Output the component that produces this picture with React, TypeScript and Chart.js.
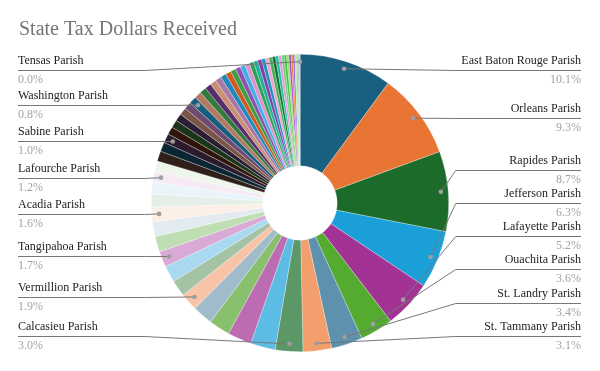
import React, { useEffect, useRef } from "react";
import { Chart, registerables } from "chart.js";

Chart.register(...registerables);

const TITLE = "State Tax Dollars Received";

const parishes = [
  "East Baton Rouge Parish", "Orleans Parish", "Rapides Parish", "Jefferson Parish",
  "Lafayette Parish", "Ouachita Parish", "St. Landry Parish", "St. Tammany Parish",
  "Calcasieu Parish", "Caddo Parish", "Bossier Parish", "Livingston Parish",
  "Ascension Parish", "Vermillion Parish", "Terrebonne Parish", "Iberia Parish",
  "Tangipahoa Parish", "St. Mary Parish", "Natchitoches Parish", "Acadia Parish",
  "Lincoln Parish", "Avoyelles Parish", "Lafourche Parish", "St. Martin Parish",
  "Vernon Parish", "Evangeline Parish", "Sabine Parish", "Beauregard Parish",
  "Webster Parish", "Iberville Parish", "St. Charles Parish", "St. John the Baptist Parish",
  "Washington Parish", "Allen Parish", "Jefferson Davis Parish", "Morehouse Parish",
  "Pointe Coupee Parish", "Concordia Parish", "De Soto Parish", "Franklin Parish",
  "Plaquemines Parish", "St. Bernard Parish", "St. James Parish", "Richland Parish",
  "Grant Parish", "Assumption Parish", "La Salle Parish", "Union Parish",
  "West Baton Rouge Parish", "Winn Parish", "Claiborne Parish", "Bienville Parish",
  "Jackson Parish", "Catahoula Parish", "East Feliciana Parish", "West Feliciana Parish",
  "Caldwell Parish", "Madison Parish", "East Carroll Parish", "West Carroll Parish",
  "Red River Parish", "St. Helena Parish", "Cameron Parish", "Tensas Parish",
];

// share of state tax dollars (percent)
const shares = [
  10.1, 9.3, 8.7, 6.3, 5.2, 3.6, 3.4, 3.1,
  3.0, 2.7, 2.6, 2.3, 2.2, 1.9, 1.8, 1.8,
  1.7, 1.7, 1.6, 1.6, 1.4, 1.3, 1.2, 1.1,
  1.1, 1.0, 1.0, 0.85, 0.85, 0.8, 0.8, 0.8,
  0.8, 0.75, 0.72, 0.7, 0.68, 0.65, 0.62, 0.6,
  0.58, 0.56, 0.53, 0.51, 0.48, 0.46, 0.43, 0.41,
  0.39, 0.37, 0.35, 0.33, 0.31, 0.29, 0.27, 0.25,
  0.23, 0.21, 0.19, 0.17, 0.15, 0.13, 0.11, 0.01,
];

const sliceColors = [
  "#185f80", "#e97535", "#1c6b2a", "#1b9fd9", "#a33295", "#55aa30", "#5e91ad", "#f29e6d",
  "#5b9767", "#5cbce3", "#bb6cb3", "#88c06e", "#a0bccb", "#f7c4a7", "#a4c3a5", "#a9d9f0",
  "#d9aad5", "#c0deb3", "#e3ebf0", "#fcefe7", "#e6efe7", "#e9f5fb", "#f6eaf4", "#eef6eb",
  "#2f2019", "#0b2633", "#2c1b2e", "#2f150a", "#1b3519", "#2b1d33", "#7a5444", "#6e4b6f",
  "#175d7d", "#b27a60", "#347a3e", "#5a2d70", "#c89070", "#a877a8", "#2088bb", "#d05a20",
  "#3e9e45", "#9050b0", "#40b0e0", "#e08fcf", "#2fa04f", "#20b0a0", "#8040a0", "#2090c0",
  "#f0a0d0", "#40b050", "#107030", "#20c0a0", "#f090e0", "#70d070", "#40c040", "#90e070",
  "#a040d0", "#f08020", "#9050f0", "#a0f0a0", "#60e060", "#b0b0b0", "#c090f0", "#d0d0d0",
];

const labeledParishes = [
  "East Baton Rouge Parish", "Orleans Parish", "Rapides Parish", "Jefferson Parish",
  "Lafayette Parish", "Ouachita Parish", "St. Landry Parish", "St. Tammany Parish",
  "Calcasieu Parish", "Vermillion Parish", "Tangipahoa Parish", "Acadia Parish",
  "Lafourche Parish", "Sabine Parish", "Washington Parish", "Tensas Parish",
];

const FONT = "'Liberation Serif', 'Times New Roman', serif";

const leaderLabels = {
  id: "leaderLabels",
  afterDatasetsDraw(chart: any) {
    const ctx = chart.ctx as CanvasRenderingContext2D;
    const meta = chart.getDatasetMeta(0);
    const data = chart.data.datasets[0].data as number[];
    const total = data.reduce((a, b) => a + b, 0);
    const area = chart.chartArea;
    const minY = area.top + 16;
    const maxY = area.bottom - 16.3;
    const gap = 33.1;
    const left: any[] = [];
    const right: any[] = [];
    (chart.data.labels as string[]).forEach((lab, i) => {
      if (!labeledParishes.includes(lab)) return;
      const arc = meta.data[i];
      const p = arc.getProps(["x", "y", "startAngle", "endAngle", "outerRadius"], true);
      const mid = (p.startAngle + p.endAngle) / 2;
      const r = p.outerRadius * 0.95;
      const item = {
        name: lab,
        pct: ((data[i] / total) * 100).toFixed(1) + "%",
        cx: p.x,
        R: p.outerRadius,
        dx: p.x + Math.cos(mid) * r,
        dy: p.y + Math.sin(mid) * r,
        ly: 0,
      };
      const frac = (mid + Math.PI / 2) / (2 * Math.PI);
      (frac > 0.5 ? left : right).push(item);
    });
    const layout = (arr: any[]) => {
      arr.sort((a, b) => a.dy - b.dy);
      arr.forEach((it, k) => {
        let y = Math.min(Math.max(it.dy, minY), maxY);
        if (k > 0) y = Math.max(y, arr[k - 1].ly + gap);
        it.ly = y;
      });
      for (let k = arr.length - 1; k >= 0; k--) {
        let y = Math.min(arr[k].ly, maxY);
        if (k < arr.length - 1) y = Math.min(y, arr[k + 1].ly - gap);
        arr[k].ly = y;
      }
    };
    layout(left);
    layout(right);

    const textLeft = 18;
    const textRight = chart.width - 19;
    ctx.save();
    const drawItem = (it: any, isRight: boolean) => {
      const ly = Math.round(it.ly) + 0.5;
      const elbowX = isRight ? it.cx + it.R + 7 : it.cx - it.R - 7;
      const endX = isRight ? textRight : textLeft;
      ctx.strokeStyle = "#777777";
      ctx.lineWidth = 1;
      ctx.beginPath();
      ctx.moveTo(it.dx, it.dy);
      ctx.lineTo(elbowX, ly);
      ctx.lineTo(endX, ly);
      ctx.stroke();
      ctx.fillStyle = "#9e9e9e";
      ctx.beginPath();
      ctx.arc(it.dx, it.dy, 2.3, 0, Math.PI * 2);
      ctx.fill();
      ctx.font = `12px ${FONT}`;
      ctx.textAlign = isRight ? "right" : "left";
      ctx.textBaseline = "middle";
      ctx.fillStyle = "#222222";
      ctx.fillText(it.name, endX, ly - 9.5);
      ctx.fillStyle = "#a3a3a3";
      ctx.fillText(it.pct, endX, ly + 9.3);
    };
    right.forEach((it) => drawItem(it, true));
    left.forEach((it) => drawItem(it, false));
    ctx.restore();
  },
};

export default function App() {
  const ref = useRef<HTMLCanvasElement | null>(null);
  useEffect(() => {
    if (!ref.current) return;
    const chart = new Chart(ref.current, {
      type: "doughnut",
      data: {
        labels: parishes,
        datasets: [
          {
            data: shares,
            backgroundColor: sliceColors,
            borderColor: "rgba(255,255,255,0.55)",
            borderWidth: 0.5,
            hoverBorderWidth: 0.5,
            hoverOffset: 0,
            offset: 0,
          },
        ],
      },
      options: {
        responsive: false,
        animation: false,
        cutout: "25%",
        layout: { padding: { left: 19, right: 19, top: 0, bottom: 19 } },
        plugins: {
          legend: { display: false },
          tooltip: { enabled: true },
          title: {
            display: true,
            text: TITLE,
            align: "start",
            color: "#757575",
            font: { family: FONT, size: 20, weight: "normal", lineHeight: 1.2 },
            padding: { top: 18, bottom: 12 },
          },
        },
      },
      plugins: [leaderLabels],
    } as any);
    return () => chart.destroy();
  }, []);
  return (
    <div style={{ position: "fixed", left: 0, top: 0, width: 600, height: 371, background: "#ffffff" }}>
      <canvas ref={ref} width={600} height={371} style={{ display: "block" }} />
    </div>
  );
}
